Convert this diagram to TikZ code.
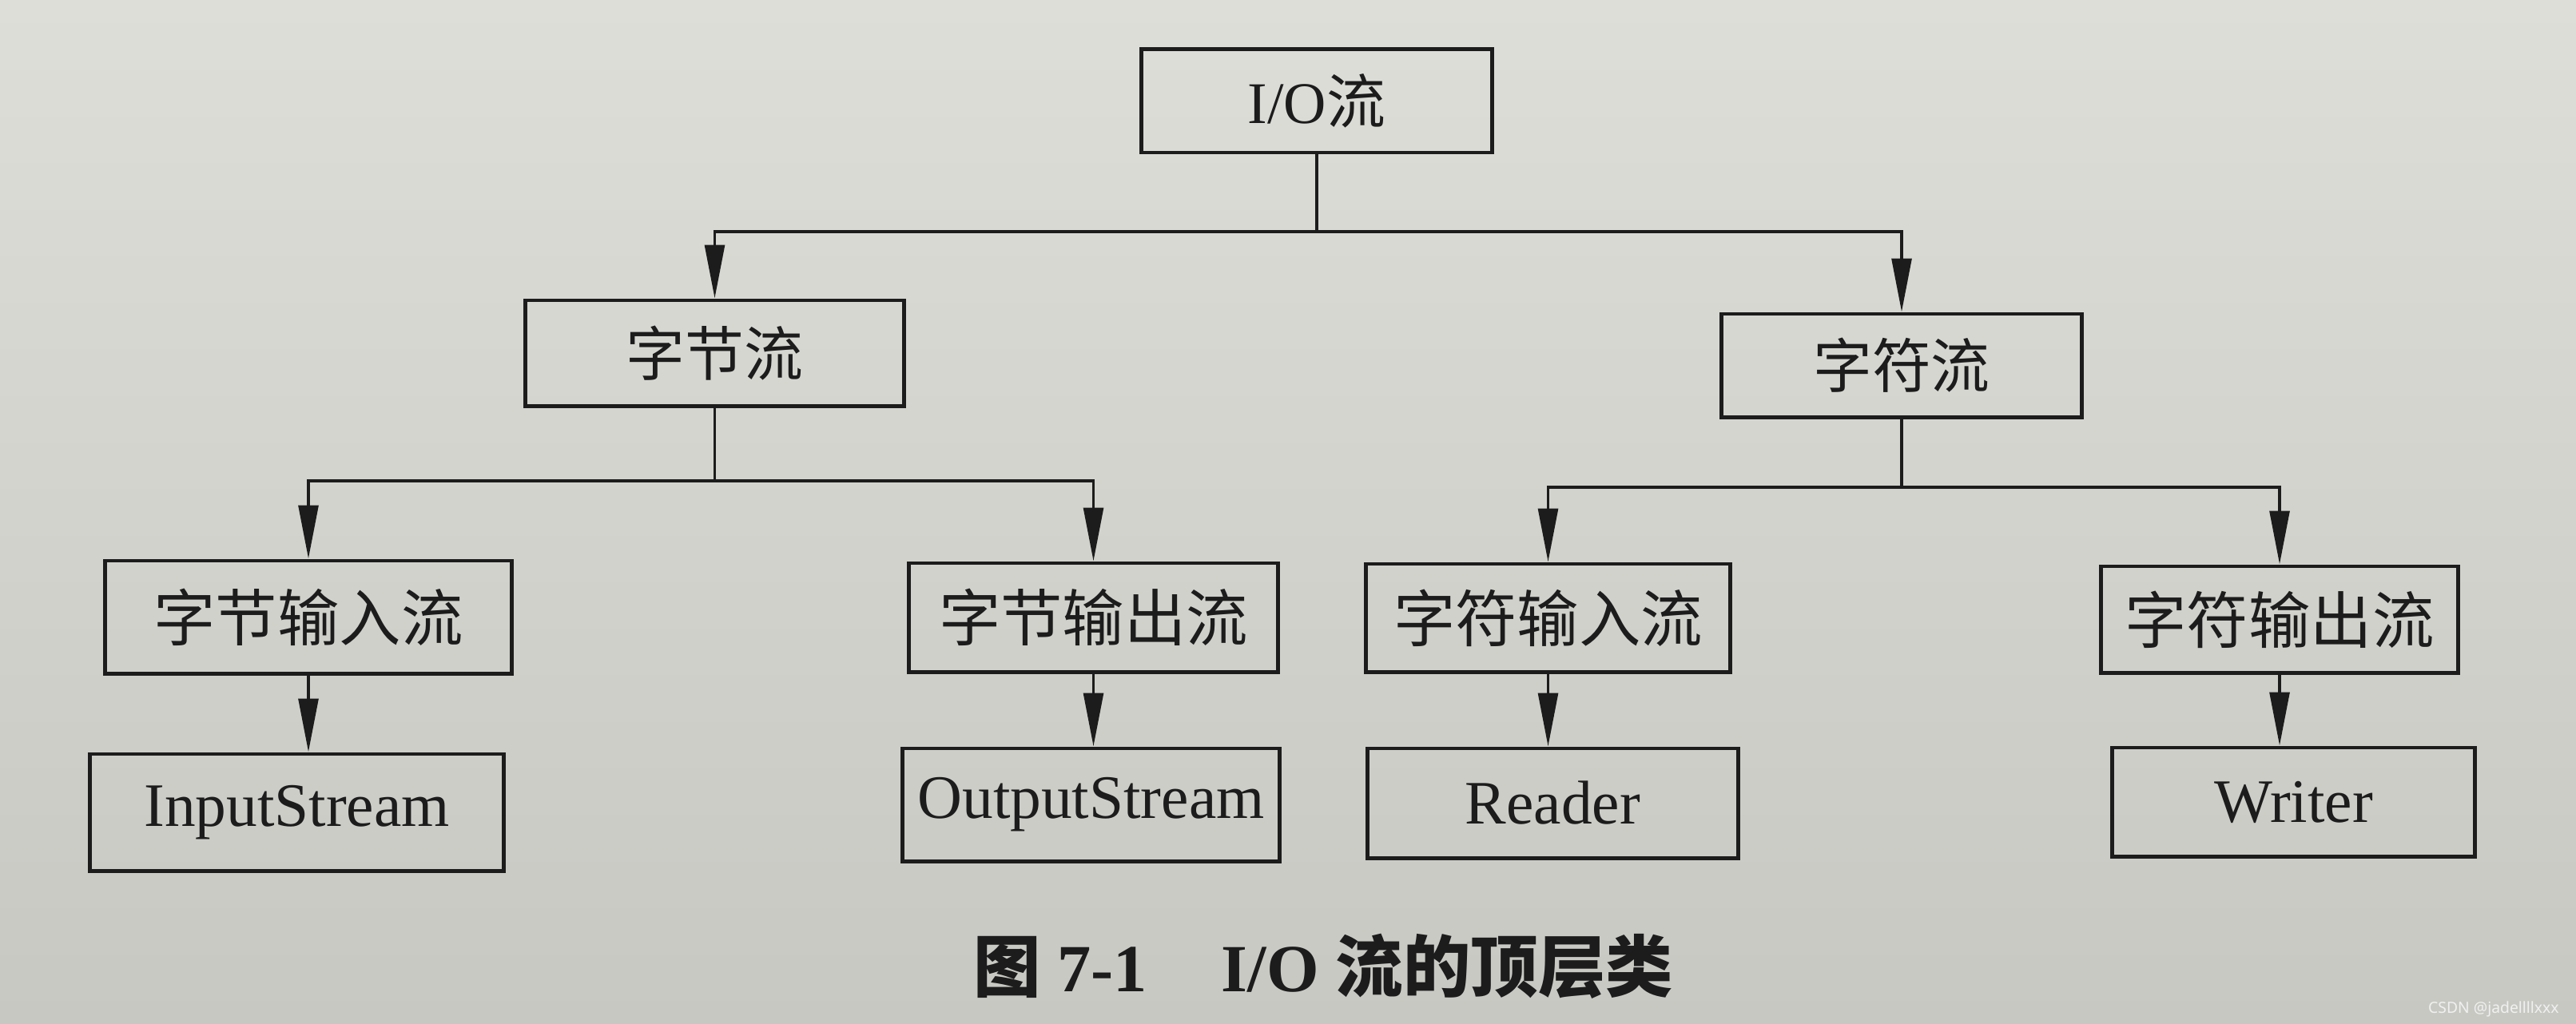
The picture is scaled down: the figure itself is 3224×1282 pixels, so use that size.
\documentclass[tikz,border=0pt]{standalone}
\usepackage{fontspec}
\setmainfont{Liberation Serif}
\newfontfamily\cjk{Noto Sans CJK SC}
\newfontfamily\wmfont{Noto Sans}
\usetikzlibrary{arrows.meta}
\definecolor{paperTop}{RGB}{222,222,217}
\definecolor{paperBot}{RGB}{200,200,195}
\definecolor{ink}{RGB}{28,28,28}
\begin{document}
\begin{tikzpicture}[x=0.01cm,y=-0.01cm,
  box/.style={draw=ink, line width=1.4pt, inner sep=0pt, text=ink},
  topfont/.style={font=\fontsize{21pt}{21pt}\selectfont},
  lowfont/.style={font=\fontsize{22pt}{22pt}\selectfont},
  conn/.style={draw=ink, line width=1.1pt},
  arr/.style={conn, -{Triangle[length=19pt,width=7pt]}}]
\useasboundingbox (0,0) rectangle (3224,1282);
\shade[top color=paperTop, bottom color=paperBot] (0,0) rectangle (3224,1282);

% level 1
\node[box, topfont, minimum width=4.38cm, minimum height=1.29cm] (io) at (1648,126.5) {I/O{\cjk 流}};
% level 2
\node[box, topfont, minimum width=4.73cm, minimum height=1.32cm] (byte) at (894.5,442) {\cjk 字节流};
\node[box, topfont, minimum width=4.50cm, minimum height=1.29cm] (char) at (2380,457.5) {\cjk 字符流};
% level 3
\node[box, lowfont, minimum width=5.08cm, minimum height=1.41cm] (bin) at (386,772.5) {\cjk 字节输入流};
\node[box, lowfont, minimum width=4.61cm, minimum height=1.36cm] (bout) at (1368.5,773) {\cjk 字节输出流};
\node[box, lowfont, minimum width=4.55cm, minimum height=1.35cm] (cin) at (1937.5,773.5) {\cjk 字符输入流};
\node[box, lowfont, minimum width=4.46cm, minimum height=1.33cm] (cout) at (2853,775.5) {\cjk 字符输出流};
% level 4
\node[box, lowfont, minimum width=5.17cm, minimum height=1.46cm] (is) at (371.5,1017) {InputStream};
\node[box, lowfont, minimum width=4.71cm, minimum height=1.41cm] (os) at (1365.5,1007.5) {OutputStream};
\node[box, lowfont, minimum width=4.63cm, minimum height=1.37cm] (rd) at (1943.5,1005.5) {Reader};
\node[box, lowfont, minimum width=4.53cm, minimum height=1.36cm] (wr) at (2870.5,1004) {Writer};

% connectors
\coordinate (bus1) at (1648,290);
\draw[conn] (io.south) -- (bus1);
\draw[arr] (bus1) -| (byte.north);
\draw[arr] (bus1) -| (char.north);

\coordinate (bus2) at (894.5,602);
\draw[conn] (byte.south) -- (bus2);
\draw[arr] (bus2) -| (bin.north);
\draw[arr] (bus2) -| (bout.north);

\coordinate (bus3) at (2380,610);
\draw[conn] (char.south) -- (bus3);
\draw[arr] (bus3) -| (cin.north);
\draw[arr] (bus3) -| (cout.north);

\draw[arr] (bin.south) -- (bin.south |- is.north);
\draw[arr] (bout.south) -- (bout.south |- os.north);
\draw[arr] (cin.south) -- (cin.south |- rd.north);
\draw[arr] (cout.south) -- (cout.south |- wr.north);

% caption
\node[text=ink, font=\fontsize{24pt}{24pt}\selectfont\bfseries] (cap) at (1656,1210)
  {{\cjk 图} 7-1\hspace{1.1em}I/O {\cjk 流的顶层类}};

% watermark
\node[anchor=east, text=white!88!gray, font=\wmfont\fontsize{5.5pt}{6pt}\selectfont] (wm) at (3215,1263) {CSDN @jadellllxxx};
\end{tikzpicture}
\end{document}
